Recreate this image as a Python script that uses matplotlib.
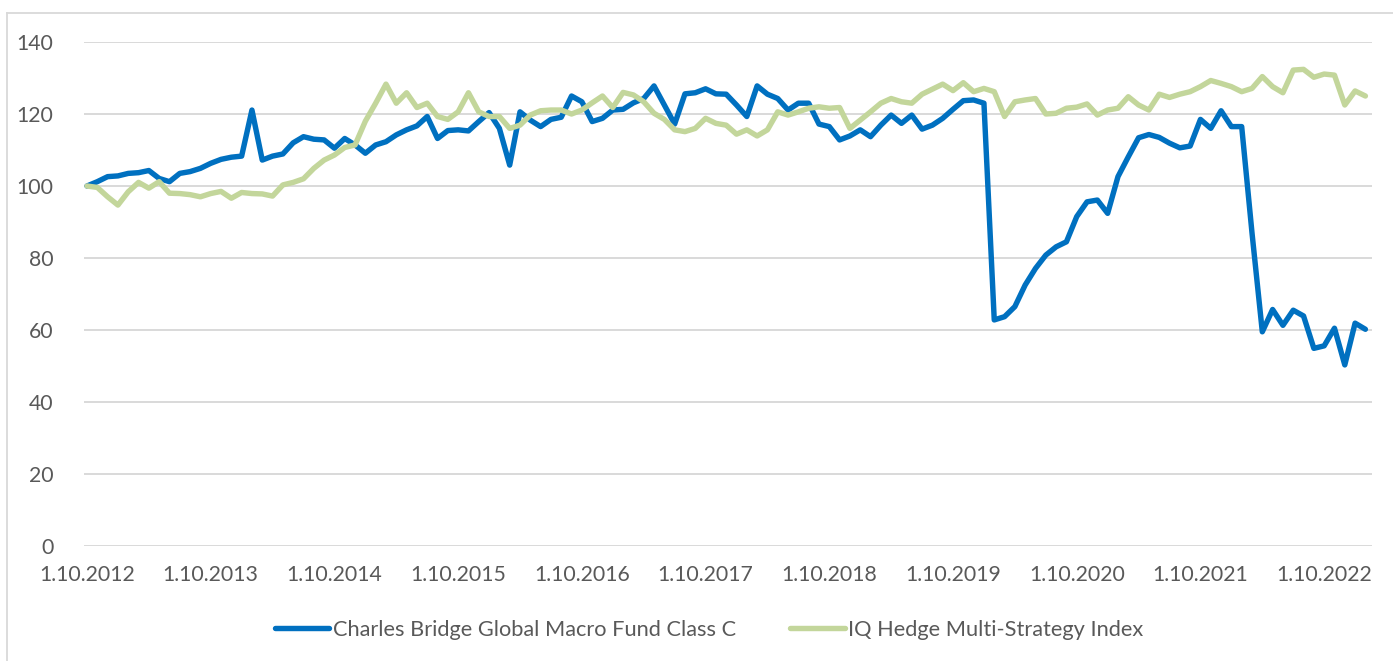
import matplotlib
matplotlib.use('Agg')
import matplotlib.pyplot as plt
import numpy as np
from matplotlib.lines import Line2D

# monthly index values, Oct 2012 .. Feb 2023
fund = [100.0, 101.2, 102.6, 102.8, 103.5, 103.7, 104.3, 102.1, 101.2, 103.5,
        104.0, 104.9, 106.3, 107.4, 108.0, 108.3, 121.1, 107.2, 108.3, 108.9,
        112.0, 113.7, 113.0, 112.8, 110.5, 113.2, 111.4, 109.1, 111.4, 112.3,
        114.2, 115.6, 116.7, 119.3, 113.2, 115.4, 115.6, 115.3, 117.9, 120.4,
        116.0, 105.8, 120.6, 118.3, 116.5, 118.5, 119.1, 125.0, 123.4, 117.9,
        118.8, 121.1, 121.3, 123.1, 124.3, 127.8, 122.5, 117.2, 125.6, 125.9,
        127.0, 125.6, 125.5, 122.5, 119.3, 127.8, 125.5, 124.3, 121.1, 123.0,
        123.0, 117.2, 116.5, 112.8, 113.9, 115.6, 113.7, 116.9, 119.7, 117.4,
        119.7, 115.8, 116.9, 118.8, 121.3, 123.7, 123.9, 123.0, 62.8, 63.7,
        66.5, 72.5, 77.1, 80.8, 83.1, 84.5, 91.5, 95.6, 96.1, 92.4,
        102.6, 108.1, 113.4, 114.3, 113.5, 111.9, 110.6, 111.1, 118.5, 116.0,
        120.9, 116.5, 116.5, 87.0, 59.5, 65.7, 61.3, 65.5, 63.9, 54.9,
        55.6, 60.5, 50.3, 61.9, 60.2]

index = [100.0, 99.6, 97.0, 94.7, 98.4, 101.0, 99.4, 101.2, 98.0, 97.9,
         97.6, 97.0, 97.9, 98.5, 96.6, 98.2, 97.9, 97.8, 97.2, 100.3,
         101.0, 102.0, 104.9, 107.2, 108.6, 110.7, 111.4, 118.0, 123.0, 128.3,
         123.0, 125.9, 121.8, 123.0, 119.3, 118.5, 120.6, 125.9, 120.6, 119.3,
         119.3, 116.0, 116.9, 119.7, 120.9, 121.1, 121.1, 120.0, 121.1, 123.1,
         125.0, 121.8, 126.0, 125.3, 123.4, 120.2, 118.5, 115.6, 115.1, 116.0,
         118.8, 117.4, 116.9, 114.4, 115.6, 113.9, 115.6, 120.6, 119.7, 120.6,
         121.6, 122.0, 121.6, 121.8, 116.0, 118.3, 120.6, 123.0, 124.3, 123.4,
         123.0, 125.5, 126.9, 128.3, 126.5, 128.7, 126.2, 127.1, 126.2, 119.3,
         123.4, 123.9, 124.3, 120.0, 120.2, 121.6, 121.9, 122.8, 119.7, 121.1,
         121.6, 124.8, 122.5, 121.1, 125.5, 124.6, 125.5, 126.2, 127.6, 129.3,
         128.5, 127.6, 126.2, 127.1, 130.4, 127.6, 125.9, 132.2, 132.4, 130.2,
         131.1, 130.8, 122.5, 126.4, 125.0]

tick_labels = ['1.10.2012', '1.10.2013', '1.10.2014', '1.10.2015', '1.10.2016',
               '1.10.2017', '1.10.2018', '1.10.2019', '1.10.2020', '1.10.2021',
               '1.10.2022']
series_names = ['Charles Bridge Global Macro Fund Class C',
                'IQ Hedge Multi-Strategy Index']

plt.rcParams['font.family'] = ['Lato', 'DejaVu Sans']
grey_txt = '#595959'
grid_col = '#D9D9D9'
blue = '#0070C0'
green = '#C3D69B'

W, H = 1393, 661
fig = plt.figure(figsize=(W / 100, H / 100), dpi=100)

# chart area border (left and top edges visible)
fig.add_artist(Line2D([6.5 / W, 6.5 / W], [0, 1 - 13 / H], color=grid_col, lw=1.3))
fig.add_artist(Line2D([6.5 / W, 1], [1 - 13 / H, 1 - 13 / H], color=grid_col, lw=1.3))

ax = fig.add_axes([84 / W, 1 - 546 / H, 1288 / W, 504 / H])
months = np.arange(len(fund))

ax.plot(months, fund, color=blue, lw=3.9, solid_joinstyle='round', solid_capstyle='round')
ax.plot(months, index, color=green, lw=3.9, solid_joinstyle='round', solid_capstyle='round')

ax.set_ylim(0, 140)
ax.set_yticks(np.arange(0, 141, 20))
ax.set_xlim(-0.29, 124.64)
ax.set_xticks(np.arange(0, 121, 12))
ax.set_xticklabels(tick_labels)

ax.yaxis.grid(True, color=grid_col, lw=1.4)
ax.set_axisbelow(True)
for s in ax.spines.values():
    s.set_visible(False)
ax.tick_params(axis='both', length=0, labelsize=15.3, labelcolor=grey_txt)
ax.tick_params(axis='y', pad=22)
ax.tick_params(axis='x', pad=14)

handles = [Line2D([], [], color=blue, lw=3.9, solid_capstyle='round'),
           Line2D([], [], color=green, lw=3.9, solid_capstyle='round')]
leg = fig.legend(handles, series_names, loc='center', ncol=2,
                 bbox_to_anchor=(709 / W, 1 - 630 / H), frameon=False,
                 fontsize=15.7, handlelength=2.5, handletextpad=0.15,
                 columnspacing=2.5, borderaxespad=0)
for t in leg.get_texts():
    t.set_color(grey_txt)

fig.savefig('out.png', dpi=100)
